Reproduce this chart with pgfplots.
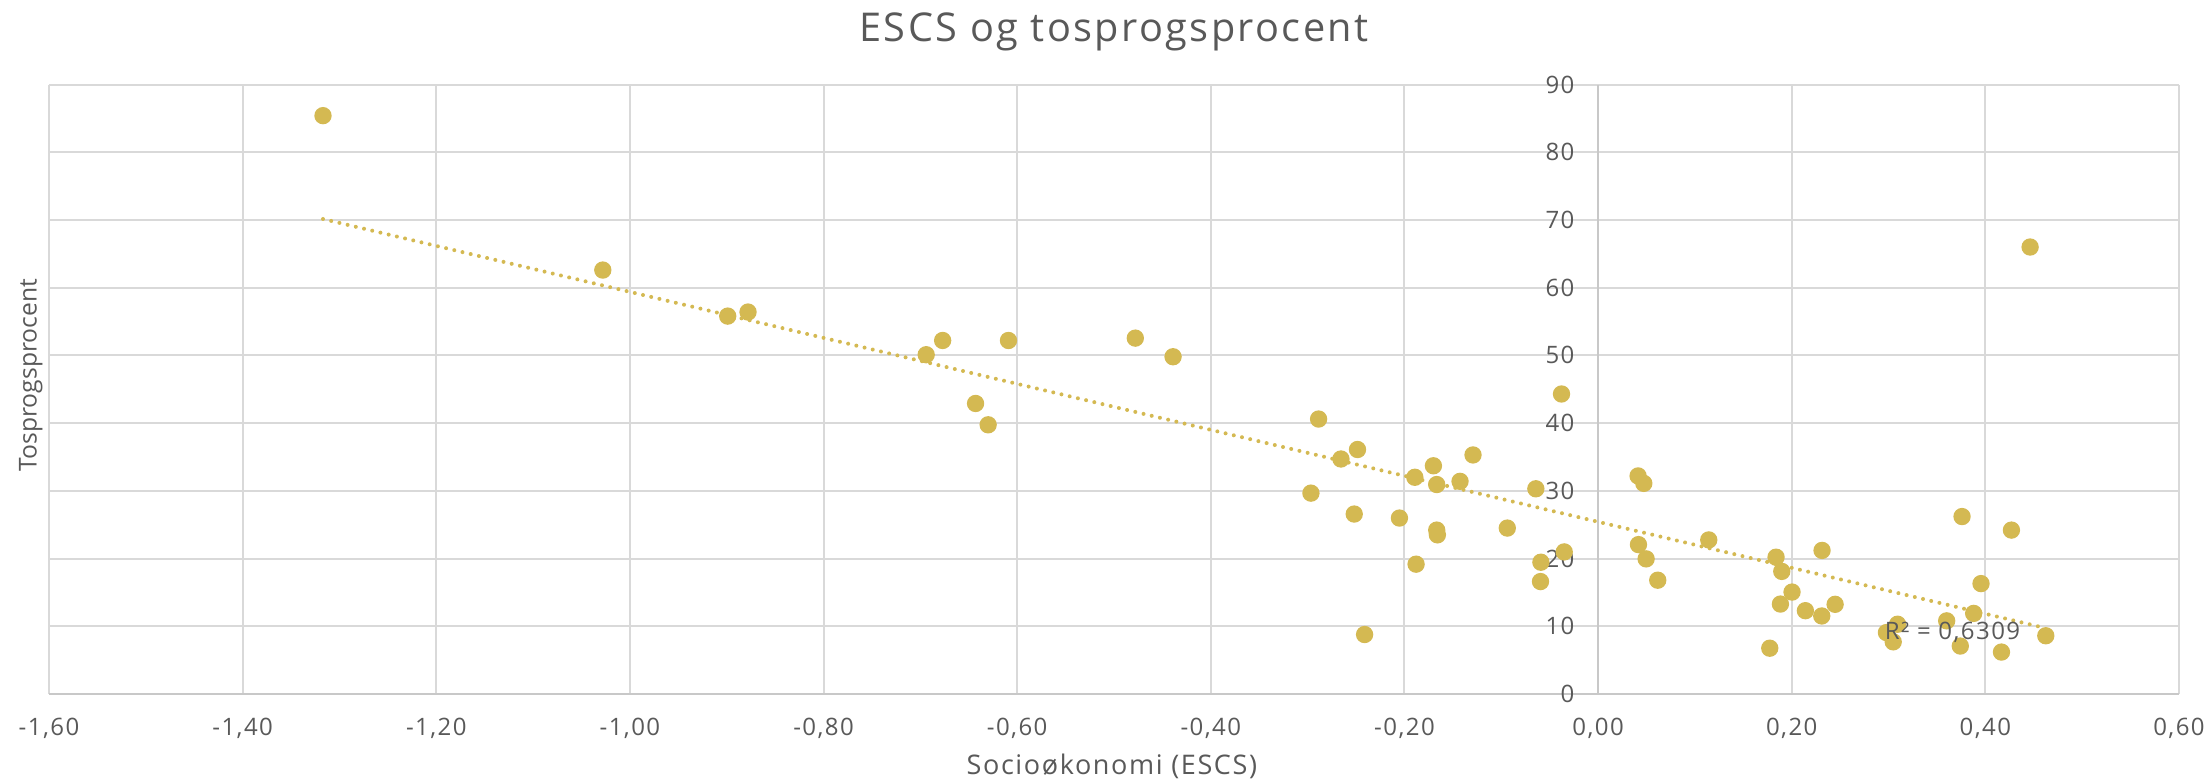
\documentclass[border=0pt]{standalone}
\usepackage{fontspec}
\setmainfont[LetterSpace=6]{Open Sans}
\newfontfamily\ylabfont{Open Sans}
\usepackage{pgfplots}
\usepackage{pgfplotstable}
\pgfplotsset{compat=1.18}
\definecolor{dotc}{RGB}{212,185,82}
\definecolor{txt}{RGB}{89,89,89}
\definecolor{gridc}{RGB}{217,217,217}
\definecolor{axc}{RGB}{200,200,200}
\pgfplotstableread{
x y
-1.317 85.4
-1.028 62.6
-0.899 55.8
-0.878 56.4
-0.694 50.1
-0.677 52.2
-0.643 42.9
-0.630 39.75
-0.609 52.2
-0.478 52.55
-0.439 49.8
-0.2966 29.66
-0.2887 40.6
-0.2656 34.7
-0.2519 26.57
-0.2485 36.1
-0.2412 8.78
-0.2052 25.98
-0.1893 32.0
-0.1880 19.17
-0.1701 33.7
-0.1667 30.93
-0.1667 24.2
-0.1660 23.5
-0.1426 31.4
-0.1292 35.3
-0.0938 24.5
-0.0643 30.3
-0.0595 16.6
-0.0591 19.46
-0.0378 44.3
-0.0350 20.98
0.0413 32.2
0.0417 22.06
0.0472 31.1
0.0496 19.95
0.0616 16.8
0.1143 22.75
0.1773 6.76
0.1838 20.2
0.1883 13.28
0.1897 18.1
0.2003 15.05
0.2141 12.3
0.2310 11.52
0.2313 21.2
0.2448 13.24
0.2978 9.07
0.3048 7.7
0.3093 10.3
0.3600 10.8
0.3741 7.08
0.3759 26.2
0.3879 11.9
0.3955 16.3
0.4166 6.19
0.4269 24.2
0.4462 66.0
0.4624 8.6
}\data
\begin{document}
\begin{tikzpicture}
\useasboundingbox (-14.7pt,-26.4pt) rectangle (648.6pt,208.2pt);
\begin{axis}[
  at={(0,0)}, anchor=south west,
  scale only axis, width=639pt, height=182.85pt,
  xmin=-1.6, xmax=0.6, ymin=0, ymax=90,
  xtick={-1.6,-1.4,-1.2,-1,-0.8,-0.6,-0.4,-0.2,0,0.2,0.4,0.6},
  ytick={0,10,20,30,40,50,60,70,80,90},
  axis x line=bottom, axis y line=middle,
  hide obscured x ticks=false, hide obscured y ticks=false,
  x axis line style={-, draw=axc, line width=0.6pt},
  y axis line style={-, draw=axc, line width=0.6pt},
  grid=major, major grid style={draw=gridc, line width=0.6pt},
  major tick length=0pt,
  /pgf/number format/assume math mode=true,
  tick label style={font=\fontsize{7.2}{8}\selectfont, text=txt},
  xticklabel style={anchor=base, yshift=-12.5pt,
    /pgf/number format/.cd, fixed, fixed zerofill, precision=2, use comma},
  yticklabel style={anchor=east, inner sep=0pt, xshift=-6.9pt},
  title={ESCS og tosprogsprocent},
  title style={font=\fontsize{11.9}{13}\selectfont, text=txt,
    at={(axis description cs:0.5,1.0702)}, anchor=base, yshift=-6pt},
  xlabel={Socioøkonomi (ESCS)},
  xlabel style={font=\fontsize{8.1}{9}\selectfont, text=txt,
    at={(axis description cs:0.499,-0.1313)}, anchor=base},
  ylabel={Tosprogsprocent},
  ylabel style={font=\ylabfont\fontsize{7.4}{9}\selectfont, text=txt, rotate=90,
    at={(axis description cs:-0.0058,0.523)}, anchor=base},
  clip=false,
]
\addplot[only marks, mark=*, color=dotc, mark size=2.4pt] table[x=x, y=y] {\data};
\addplot[dotc, line width=1.2pt, line cap=round, dash pattern=on 0pt off 2.53pt, no marks]
  table[x=x, y={create col/linear regression={y=y}}] {\data};
\coordinate (rr) at (axis cs:0.3660,7.98);
\end{axis}
\node[font=\fontsize{7.2}{8}\selectfont, text=txt, anchor=base] at (rr) {R² = 0,6309};
\end{tikzpicture}
\end{document}
